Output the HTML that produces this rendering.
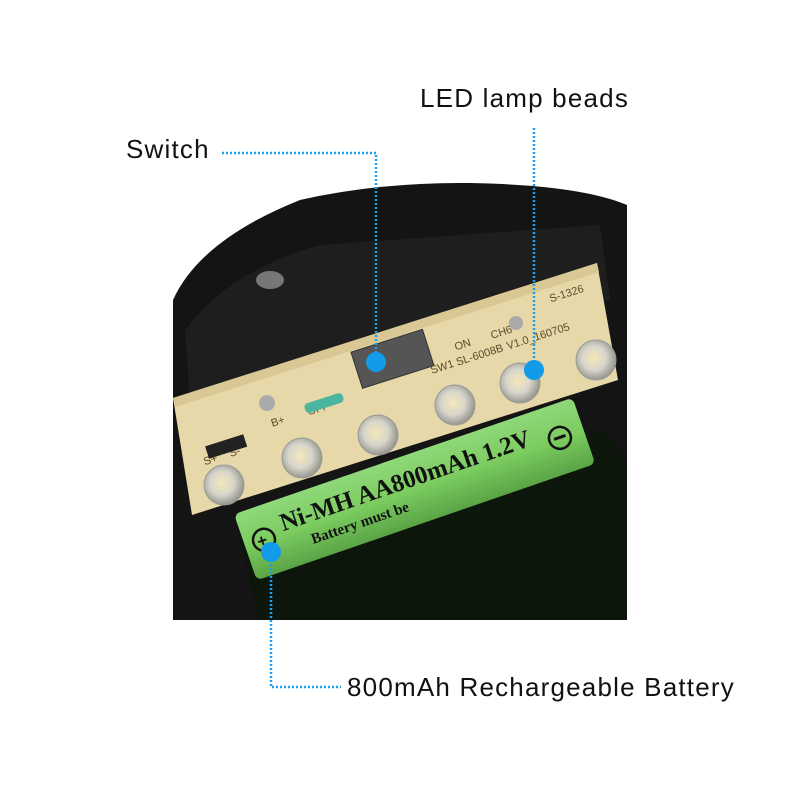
<!DOCTYPE html>
<html><head><meta charset="utf-8"><style>
html,body{margin:0;padding:0;background:#fff;}
svg{display:block}
.l{font-family:"Liberation Sans",Arial,sans-serif;font-size:26px;letter-spacing:1.2px;fill:#111}
.p{font-family:"Liberation Sans",Arial,sans-serif}
.s{font-family:"Liberation Serif",serif}
</style></head><body>
<svg width="800" height="800" viewBox="0 0 800 800" xmlns="http://www.w3.org/2000/svg">
<defs>
<linearGradient id="bat" x1="0" y1="0" x2="0" y2="1">
<stop offset="0" stop-color="#8fd87a"/><stop offset="0.5" stop-color="#7ccc60"/><stop offset="1" stop-color="#5aa446"/>
</linearGradient>
<radialGradient id="led" cx="0.45" cy="0.45" r="0.6">
<stop offset="0" stop-color="#f4e7b8"/><stop offset="0.5" stop-color="#d8d6cc"/><stop offset="1" stop-color="#8a8a82"/>
</radialGradient>
</defs>
<path d="M173,620 L173,300 Q200,240 300,200 Q380,182 470,183 Q580,185 627,205 L627,620 Z" fill="#141414"/>
<path d="M185,330 Q230,270 320,245 L600,225 L610,300 L190,400 Z" fill="#1e1e1e"/>
<ellipse cx="270" cy="280" rx="14" ry="9" fill="#777"/>
<path d="M240,540 L600,430 L627,460 L627,620 L260,620 Z" fill="#0c160a"/>
<polygon points="173,398 597,263 618,380 192,515" fill="#e6d8a8"/>
<polygon points="173,398 597,263 599,272 175,407" fill="#d9c893"/>
<rect x="355" y="340" width="75" height="38" transform="rotate(-17.7 392 359)" fill="#555" stroke="#333"/>
<g class="p" font-size="11" fill="#5b4a2c" transform="rotate(-17.7 400 340)">
<text x="176" y="400">S+</text><text x="203" y="400">S-</text>
<text x="252" y="384">B+</text><text x="290" y="384">OFF</text>
<text x="450" y="367">ON</text><text x="488" y="367">CH6</text>
<text x="420" y="382">SW1 SL-6008B</text><text x="500" y="382">V1.0_160705</text>
<text x="555" y="350">S-1326</text>
</g>
<circle cx="267" cy="403" r="8" fill="#aaa"/>
<circle cx="516" cy="323" r="7" fill="#aaa"/>
<rect x="304" y="398" width="40" height="10" rx="4" fill="#4cb5a0" transform="rotate(-17.7 324 403)"/>
<rect x="206" y="440" width="40" height="13" fill="#222" transform="rotate(-17.7 226 446)"/>
<g fill="url(#led)" stroke="#999" stroke-width="1">
<circle cx="224" cy="485" r="20"/>
<circle cx="302" cy="458" r="20"/>
<circle cx="378" cy="435" r="20"/>
<circle cx="455" cy="405" r="20"/>
<circle cx="520" cy="383" r="20"/>
<circle cx="596" cy="360" r="20"/>
</g>
<g transform="rotate(-19 235 517)">
<rect x="235" y="514" width="358" height="70" rx="6" fill="url(#bat)"/>
<text class="s" x="276" y="546" font-size="25" font-weight="bold" fill="#111">Ni-MH AA800mAh 1.2V</text>
<text class="s" x="300" y="568" font-size="15" font-weight="bold" fill="#111">Battery must be</text>
<circle cx="255" cy="548" r="11" fill="none" stroke="#111" stroke-width="2.5"/>
<text class="p" x="248" y="554" font-size="17" font-weight="bold" fill="#111">+</text>
<circle cx="568" cy="548" r="11" fill="none" stroke="#111" stroke-width="2.5"/>
<rect x="562" y="546" width="12" height="3" fill="#111"/>
</g>
<text class="l" x="126" y="158">Switch</text>
<text class="l" x="420" y="107">LED lamp beads</text>
<text class="l" x="347" y="696">800mAh Rechargeable Battery</text>
<g stroke="#1aa0f0" stroke-width="2.5" stroke-dasharray="2 2" fill="none">
<path d="M222,153 L376,153 L376,362"/>
<path d="M534,128 L534,368"/>
<path d="M271,552 L271,687 L341,687"/>
</g>
<g fill="#129be8">
<circle cx="376" cy="362" r="10"/>
<circle cx="534" cy="370" r="10"/>
<circle cx="271" cy="552" r="10"/>
</g>
</svg>
</body></html>
